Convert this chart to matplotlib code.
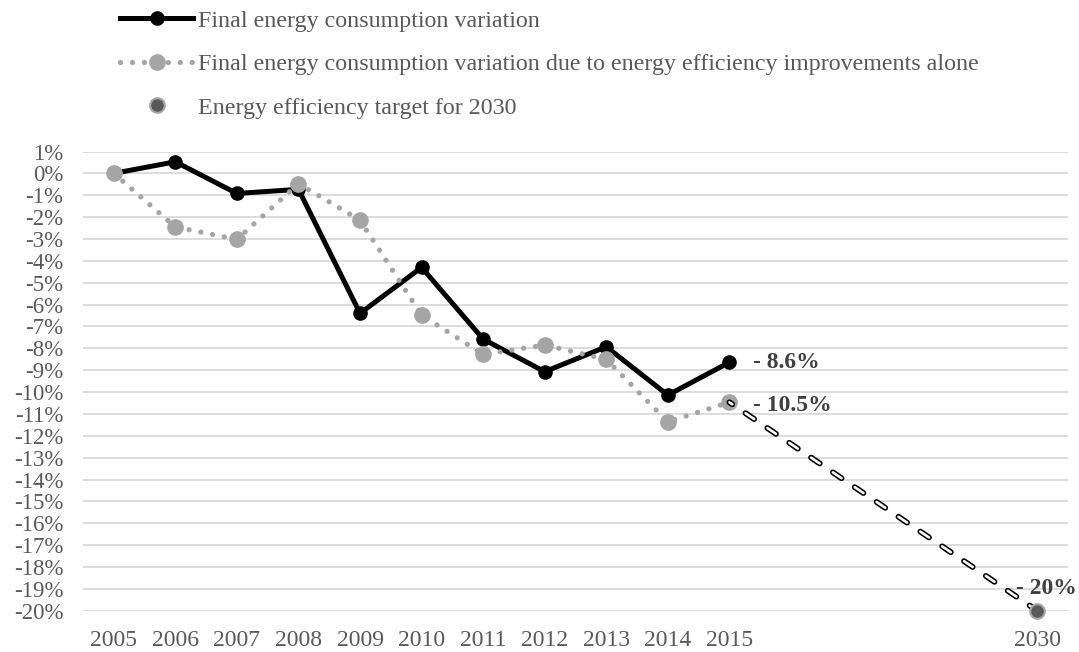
import matplotlib
matplotlib.use("Agg")
import matplotlib.pyplot as plt
from matplotlib.ticker import FixedLocator, FuncFormatter
from matplotlib.lines import Line2D

# ---------------- data ----------------
categories = ['2005', '2006', '2007', '2008', '2009', '2010', '2011', '2012',
              '2013', '2014', '2015', '', '', '', '', '2030']
final_consumption = [0.0, 0.53, -0.92, -0.73, -6.40, -4.30, -7.58, -9.07,
                     -7.93, -10.14, -8.64]
efficiency_only = [0.0, -2.45, -3.02, -0.47, -2.14, -6.48, -8.28, -7.85,
                   -8.51, -11.36, -10.47]
path_categories = ['2015', '2030']
path_values = [-10.47, -20.0]
target_category = '2030'
target_value = -20.0
y_ticks = list(range(1, -21, -1))

label_final = 'Final energy consumption variation'
label_eff = 'Final energy consumption variation due to energy efficiency improvements alone'
label_target = 'Energy efficiency target for 2030'
ann_final = '- 8.6%'
ann_eff = '- 10.5%'
ann_target = '- 20%'

# ---------------- style ----------------
plt.rcParams['font.family'] = ['Liberation Serif', 'DejaVu Serif']
plt.rcParams['lines.scale_dashes'] = False
TEXT = '#595959'
ANN = '#404040'
GRID = '#D9D9D9'
GRAY = '#A5A5A5'

fig = plt.figure(figsize=(10.79, 6.52), dpi=100)
ax = fig.add_axes([83 / 1079, 1 - 610.7 / 652, (1068 - 83) / 1079, (610.7 - 151.5) / 652])

idx = {c: i for i, c in enumerate(categories) if c}
x_main = list(range(len(final_consumption)))

# final consumption (solid black)
ax.plot(x_main, final_consumption, color='black', lw=3.6, marker='o', markersize=9.5,
        solid_joinstyle='round', zorder=3, clip_on=False)

# efficiency-only series (dotted gray)
ax.plot(x_main, efficiency_only, color=GRAY, lw=3.8, linestyle=(0, (0.01, 8.6)),
        dash_capstyle='round', marker='o', markersize=11, markerfacecolor=GRAY,
        markeredgecolor=GRAY, zorder=4, clip_on=False)

# dashed path to target: outlined capsules
px = [idx[c] for c in path_categories]
ax.plot(px, path_values, color='black', lw=4.2, linestyle=(5, (7.5, 11.5)),
        dash_capstyle='round', zorder=5, clip_on=False)
ax.plot(px, path_values, color='white', lw=1.9, linestyle=(5, (7.5, 11.5)),
        dash_capstyle='round', zorder=6, clip_on=False)

# target marker
ax.plot([idx[target_category]], [target_value], linestyle='none', marker='o',
        markersize=10.5, markerfacecolor='#595959', markeredgecolor='#A6A6A6',
        markeredgewidth=1.5, zorder=7, clip_on=False)

# annotations
ax.annotate(ann_final, (x_main[-1], final_consumption[-1]), xytext=(17, 0),
            textcoords='offset points', ha='left', va='center', fontsize=17,
            fontweight='bold', color=ANN)
ax.annotate(ann_eff, (x_main[-1], efficiency_only[-1]), xytext=(17, -2),
            textcoords='offset points', ha='left', va='center', fontsize=17,
            fontweight='bold', color=ANN)
ax.annotate(ann_target, (idx[target_category], target_value), xytext=(-15, 16),
            textcoords='offset points', ha='left', va='center', fontsize=17,
            fontweight='bold', color=ANN, annotation_clip=False)

# axes
ax.set_xlim(-0.5, len(categories) - 0.5)
ax.set_ylim(-20, 1)
ax.set_xticks(range(len(categories)))
ax.set_xticklabels(categories)
ax.yaxis.set_major_locator(FixedLocator(y_ticks))
ax.yaxis.set_major_formatter(FuncFormatter(lambda v, p: f'{int(round(v))}%'))
ax.tick_params(axis='both', length=0, colors=TEXT)
ax.tick_params(axis='y', labelsize=16.5, pad=14)
ax.tick_params(axis='x', labelsize=17, pad=14)
for s in ax.spines.values():
    s.set_visible(False)
ax.grid(axis='y', color=GRID, lw=1.3)
ax.set_axisbelow(True)

# legend
handles = [
    Line2D([], [], color='black', lw=3.6, marker='o', markersize=9.5),
    Line2D([], [], color=GRAY, lw=3.8, linestyle=(0, (0.01, 8.6)), dash_capstyle='round',
           marker='o', markersize=11, markerfacecolor=GRAY, markeredgecolor=GRAY),
    Line2D([], [], linestyle='none', marker='o', markersize=10.5, markerfacecolor='#595959',
           markeredgecolor='#A6A6A6', markeredgewidth=1.5),
]
leg = fig.legend(handles, [label_final, label_eff, label_target], loc='upper left',
                 bbox_to_anchor=(120 / 1079, 1 - 10 / 652), frameon=False, fontsize=17.3,
                 handlelength=3.05, handletextpad=0.2, labelspacing=0.9,
                 borderpad=0, borderaxespad=0)
for t in leg.get_texts():
    t.set_color(TEXT)

fig.savefig('out.png', dpi=100)
